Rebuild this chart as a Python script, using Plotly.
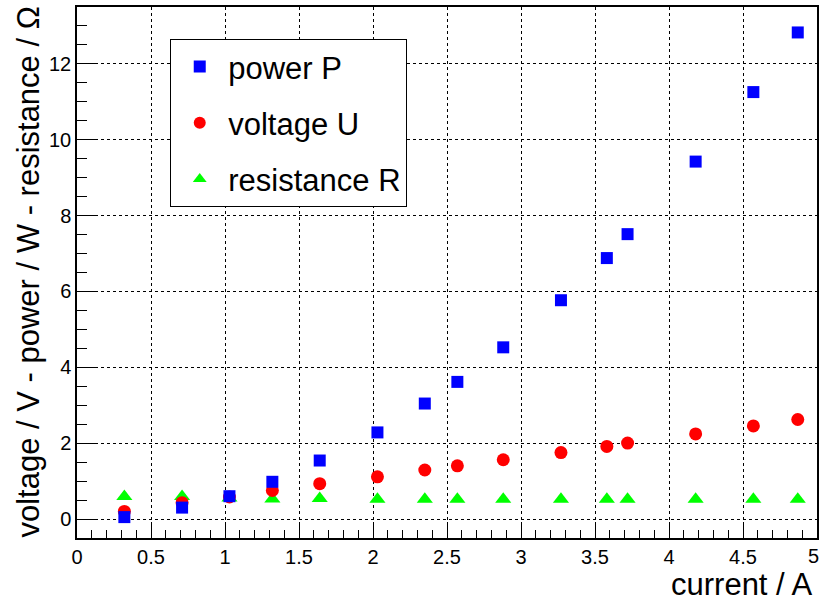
import plotly.graph_objects as go

current = [0.32, 0.71, 1.03, 1.32, 1.64, 2.03, 2.35, 2.57, 2.88, 3.27, 3.58, 3.72, 4.18, 4.57, 4.87]
power = [0.06, 0.31, 0.61, 0.99, 1.55, 2.29, 3.05, 3.62, 4.53, 5.77, 6.88, 7.51, 9.42, 11.25, 12.82]
voltage = [0.21, 0.44, 0.59, 0.76, 0.94, 1.12, 1.30, 1.41, 1.57, 1.76, 1.92, 2.01, 2.25, 2.46, 2.63]
resistance = [0.60, 0.60, 0.56, 0.54, 0.55, 0.53, 0.53, 0.53, 0.53, 0.53, 0.53, 0.53, 0.53, 0.53, 0.53]

x_tick_vals = [0, 0.5, 1, 1.5, 2, 2.5, 3, 3.5, 4, 4.5, 5]
x_tick_text = ["0", "0.5", "1", "1.5", "2", "2.5", "3", "3.5", "4", "4.5", "5"]

FONT = "Liberation Sans, Arial, Helvetica, sans-serif"

fig = go.Figure()
fig.add_trace(go.Scatter(x=current, y=resistance, mode="markers", name="resistance R",
                         legendgroup="r", legendrank=3,
                         marker=dict(symbol="triangle-up", size=14, color="#00ff00")))
fig.add_trace(go.Scatter(x=current, y=voltage, mode="markers", name="voltage U",
                         legendgroup="u", legendrank=2,
                         marker=dict(symbol="circle", size=13, color="#ff0000")))
fig.add_trace(go.Scatter(x=current, y=power, mode="markers", name="power P",
                         legendgroup="p", legendrank=1,
                         marker=dict(symbol="square", size=12, color="#0000ff")))

axis_common = dict(
    showline=True, linecolor="black", linewidth=1.5, mirror=True,
    ticks="inside", tickcolor="black", tickwidth=1,
    showgrid=True, gridcolor="black", griddash="dot", gridwidth=1,
    zeroline=False, automargin=False, ticklabeloverflow="allow",
    tickfont=dict(family=FONT, size=20, color="black"),
)

# last x label is drawn as an annotation (shifted slightly inward so it is not clipped)
fig.update_xaxes(range=[0, 5], tickmode="array", tickvals=x_tick_vals,
                 ticktext=x_tick_text[:-1] + [""],
                 ticklen=16,
                 minor=dict(ticks="inside", tickmode="linear", tick0=0, dtick=0.1, ticklen=8,
                            tickcolor="black", showgrid=False),
                 **axis_common)
fig.update_yaxes(range=[-0.49, 13.49], dtick=2, tick0=0, ticklen=20,
                 minor=dict(ticks="inside", dtick=0.5, ticklen=10, tickcolor="black", showgrid=False),
                 **axis_common)

fig.update_layout(
    width=821, height=606,
    margin=dict(l=77, r=4, t=7, b=68, autoexpand=False),
    paper_bgcolor="white", plot_bgcolor="white",
    font=dict(family=FONT, color="black"),
    legend=dict(x=0.126, y=0.94, xanchor="left", yanchor="top",
                bgcolor="white", bordercolor="black", borderwidth=1,
                font=dict(family=FONT, size=31, color="black"),
                tracegroupgap=13, itemsizing="constant", itemwidth=47),
    annotations=[
        dict(text=x_tick_text[-1], xref="x", yref="paper", x=x_tick_vals[-1], y=0,
             xanchor="center", yanchor="top", xshift=-4, yshift=-5, showarrow=False,
             font=dict(family=FONT, size=20, color="black")),
        dict(text="current / A", xref="paper", yref="paper", x=0.997, y=-0.088,
             xanchor="right", yanchor="middle", showarrow=False,
             font=dict(family=FONT, size=31, color="black")),
        dict(text="voltage / V - power / W - resistance / Ω", xref="paper", yref="paper",
             x=-0.066, y=1.004, xanchor="center", yanchor="top", textangle=-90, showarrow=False,
             font=dict(family=FONT, size=31, color="black")),
    ],
)

fig.write_html("out.html")
